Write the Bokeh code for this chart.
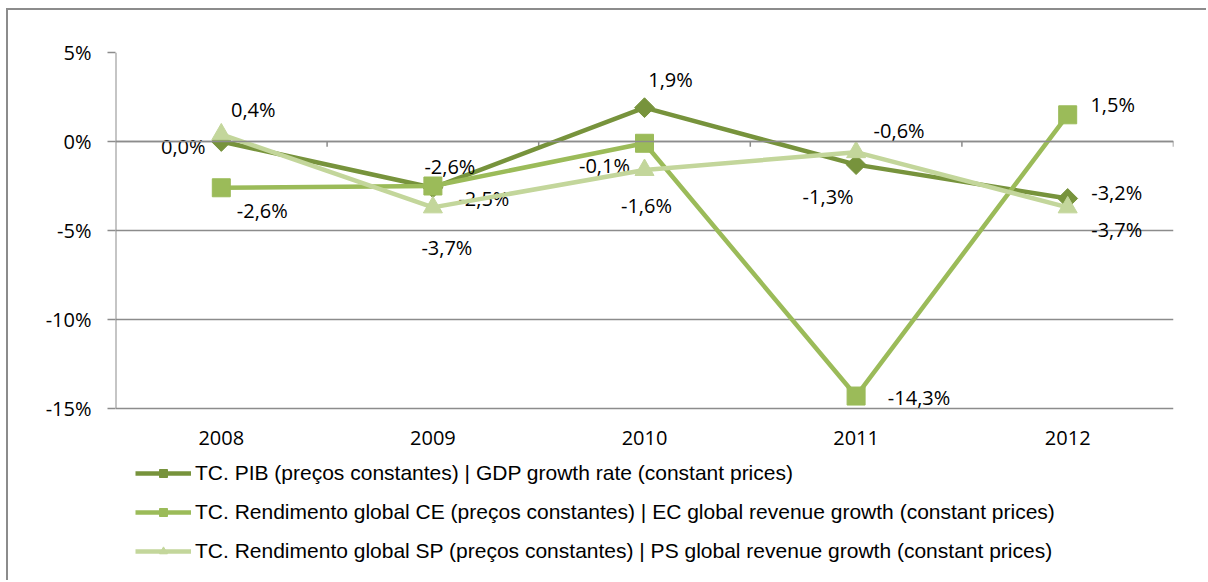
import math
from bokeh.plotting import figure
from bokeh.models import (FixedTicker, Span, Legend, LegendItem, ColumnDataSource)
from bokeh.core.properties import value
from bokeh.embed import file_html
from bokeh.resources import INLINE

years = ["2008", "2009", "2010", "2011", "2012"]
pib = [0.0, -2.6, 1.9, -1.3, -3.2]
ce = [-2.6, -2.5, -0.1, -14.3, 1.5]
sp = [0.4, -3.7, -1.6, -0.6, -3.7]
y_ticks = [5, 0, -5, -10, -15]
y_tick_labels = ["5%", "0%", "-5%", "-10%", "-15%"]
names = [
    "TC. PIB (preços constantes) | GDP growth rate (constant prices)",
    "TC. Rendimento global CE (preços constantes) | EC global revenue growth (constant prices)",
    "TC. Rendimento global SP (preços constantes) | PS global revenue growth (constant prices)",
]

# label offsets in screen pixels (style only)
pib_off = [(-38, 5), (17, -21), (26, -28), (-28, 32), (49, -6)]
ce_off = [(41, 23), (51, 12), (-40, 22), (63, 1), (45, -10)]
sp_off = [(32, -25), (14, 40), (2, 36), (43, -22), (49, 22)]

C_PIB = "#77933C"
C_CE = "#9BBB59"
C_SP = "#C3D69B"
GRID = "#8c8c8c"
FONT = "Open Sans"

xs = list(range(len(years)))
y_top, y_bot = max(y_ticks), min(y_ticks)

# layout in pixels: plot area 52..408 for 5%..-15%, canvas ends at 582
px_per_unit = (408 - 52) / (y_top - y_bot)
y_min = y_bot - (582 - 408) / px_per_unit

p = figure(width=1200, height=572, output_backend="svg", toolbar_location=None,
           x_range=(-0.5, len(years) - 0.5), y_range=(y_min, y_top),
           x_axis_location=None,
           min_border_left=107, min_border_top=42, min_border_right=35,
           min_border_bottom=0)
p.styles = {"border-top": "2px solid #8c8c8c", "border-left": "2px solid #8c8c8c",
            "margin-left": "6px", "margin-top": "8px"}
p.outline_line_color = None
p.background_fill_color = "white"
p.border_fill_color = "white"

p.yaxis.ticker = FixedTicker(ticks=y_ticks)
p.yaxis.major_label_overrides = {t: l for t, l in zip(y_ticks, y_tick_labels)}
p.yaxis.axis_line_color = None
p.yaxis.major_tick_line_color = GRID
p.yaxis.major_tick_line_width = 1.5
p.yaxis.major_tick_out = 8
p.yaxis.major_tick_in = 0
p.yaxis.minor_tick_line_color = None
p.yaxis.major_label_standoff = 16
p.yaxis.major_label_text_font = FONT
p.yaxis.major_label_text_font_size = "20px"
p.yaxis.major_label_text_color = "black"

p.xgrid.grid_line_color = None
p.ygrid.ticker = FixedTicker(ticks=y_ticks)
p.ygrid.grid_line_color = GRID
p.ygrid.grid_line_width = 1.5

# vertical axis line over the value range
p.segment(x0=[-0.5], x1=[-0.5], y0=[y_bot], y1=[y_top], line_color=GRID, line_width=2)
# zero axis with category boundary ticks
p.add_layout(Span(location=0, dimension="width", line_color=GRID, line_width=1.5))
bounds = [i + 0.5 for i in range(len(years))]
p.segment(x0=bounds, x1=bounds, y0=[0] * len(bounds), y1=[-0.3] * len(bounds),
          line_color=GRID, line_width=1.5)

# category labels
p.text(x=xs, y=[y_bot] * len(xs), text=years, y_offset=29,
       text_align="center", text_baseline="middle",
       text_font=value(FONT), text_font_size="20px", text_color="black")

series = [
    (pib, C_PIB, "square", 14, math.pi / 4, pib_off),
    (ce, C_CE, "square", 18, 0.0, ce_off),
    (sp, C_SP, "triangle", 19, 0.0, sp_off),
]
items = []
for (vals, col, mk, sz, ang, offs), name in zip(series, names):
    src = ColumnDataSource(dict(
        x=xs, y=vals,
        lab=[("%.1f%%" % v).replace(".", ",") for v in vals],
        dx=[o[0] for o in offs], dy=[o[1] for o in offs]))
    ln = p.line("x", "y", source=src, line_color=col, line_width=4.5)
    sc = p.scatter("x", "y", source=src, marker=mk, size=sz, angle=ang,
                   fill_color=col, line_color=col)
    items.append(LegendItem(label=name, renderers=[ln, sc]))
    p.text("x", "y", text="lab", source=src, x_offset="dx", y_offset="dy",
           text_align="center", text_baseline="middle",
           text_font=value(FONT), text_font_size="20px", text_color="black")

legend = Legend(items=items, location=(20, 19), orientation="vertical",
                glyph_width=56, glyph_height=20, spacing=15, padding=0, margin=0,
                label_standoff=4, label_text_font="Liberation Sans",
                label_text_font_size="21px", label_text_color="black",
                border_line_color=None, background_fill_alpha=0)
p.add_layout(legend)

open("out.html", "w").write(file_html(p, INLINE))
